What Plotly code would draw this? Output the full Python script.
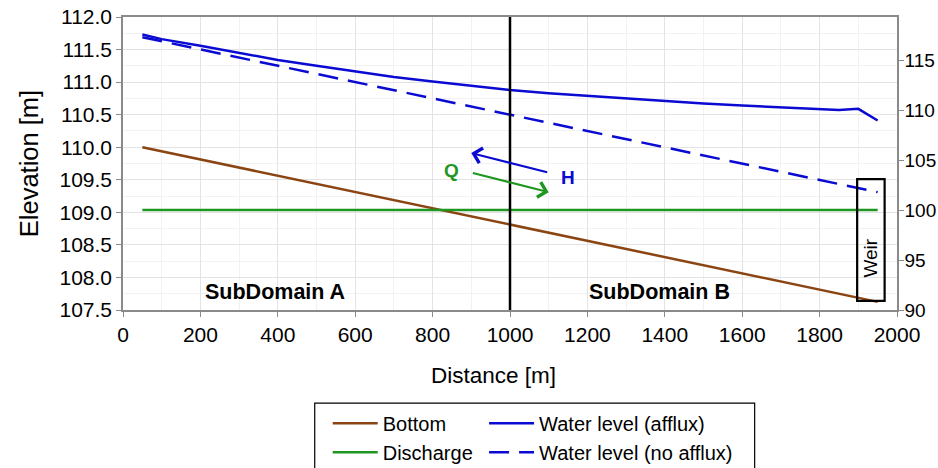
import plotly.graph_objects as go

# --- data ---
# channel bottom (left axis, m)
bottom_x = [50, 1950]
bottom_z = [110.0, 107.625]

# discharge (right axis)
discharge_x = [50, 1950]
discharge_q = [100, 100]

# water level with afflux from the weir (left axis, m)
afflux_x = [50, 100, 200, 300, 400, 500, 600, 700, 800, 900, 1000, 1100,
            1200, 1300, 1400, 1500, 1600, 1700, 1800, 1850, 1900, 1950]
afflux_h = [111.73, 111.66, 111.56, 111.45, 111.34, 111.25, 111.16, 111.08,
            111.01, 110.94, 110.88, 110.83, 110.79, 110.74, 110.70, 110.67,
            110.64, 110.61, 110.59, 110.57, 110.59, 110.41]

# water level without afflux (left axis, m)
noafflux_x = [50, 1950]
noafflux_h = [111.69, 109.31]

interface_x = 1000          # boundary between the two subdomains
weir_x = [1897, 1968]
weir_z = [107.64, 109.51]

FONT = "Liberation Sans, Arial, sans-serif"
BROWN = "#8b4513"
GREEN = "#1f961f"
BLUE = "#0a0ad2"
GRID = "#e3e3e3"
MINOR = "#f2f2f2"
AXIS = "#8a8a8a"

fig = go.Figure()

fig.add_trace(go.Scatter(x=bottom_x, y=bottom_z, name="Bottom", mode="lines",
                         line=dict(color=BROWN, width=2.5), legend="legend"))
fig.add_trace(go.Scatter(x=discharge_x, y=discharge_q, name="Discharge", mode="lines",
                         line=dict(color=GREEN, width=2.5), yaxis="y2", legend="legend"))
fig.add_trace(go.Scatter(x=afflux_x, y=afflux_h, name="Water level (afflux)", mode="lines",
                         line=dict(color=BLUE, width=2.5), legend="legend2"))
fig.add_trace(go.Scatter(x=noafflux_x, y=noafflux_h, name="Water level (no afflux)", mode="lines",
                         line=dict(color=BLUE, width=2.5, dash="20px,10px"), legend="legend2"))

# subdomain interface
fig.add_shape(type="line", xref="x", yref="paper", x0=interface_x, x1=interface_x, y0=0, y1=1,
              line=dict(color="black", width=2.5))
# weir box
fig.add_shape(type="rect", xref="x", yref="y", x0=weir_x[0], x1=weir_x[1], y0=weir_z[0], y1=weir_z[1],
              line=dict(color="black", width=2.2))
# legend frame
fig.add_shape(type="rect", xref="paper", yref="paper", x0=0.2477, x1=0.8161, y0=-0.3177, y1=-0.58,
              line=dict(color="black", width=1.2))

# arrows H (upstream) and Q (downstream)
fig.add_annotation(x=900, y=109.91, ax=1100, ay=109.61, xref="x", yref="y", axref="x", ayref="y",
                   text="", showarrow=True, arrowhead=4, arrowsize=1.5, arrowwidth=2, arrowcolor=BLUE)
fig.add_annotation(x=1100, y=109.31, ax=900, ay=109.61, xref="x", yref="y", axref="x", ayref="y",
                   text="", showarrow=True, arrowhead=4, arrowsize=1.5, arrowwidth=2, arrowcolor=GREEN)
fig.add_annotation(x=849, y=109.64, text="<b>Q</b>", showarrow=False,
                   font=dict(family=FONT, size=19, color=GREEN))
fig.add_annotation(x=1150, y=109.53, text="<b>H</b>", showarrow=False,
                   font=dict(family=FONT, size=19, color=BLUE))

fig.add_annotation(x=392, y=107.78, text="<b>SubDomain A</b>", showarrow=False,
                   font=dict(family=FONT, size=21.5, color="black"))
fig.add_annotation(x=1387, y=107.78, text="<b>SubDomain B</b>", showarrow=False,
                   font=dict(family=FONT, size=21.5, color="black"))
fig.add_annotation(x=1932, y=108.30, text="Weir", textangle=-90, showarrow=False,
                   font=dict(family=FONT, size=19, color="black"))

fig.add_annotation(x=0.479, y=-0.222, xref="paper", yref="paper", yanchor="middle",
                   text="Distance [m]", showarrow=False,
                   font=dict(family=FONT, size=22.5, color="black"))

fig.update_layout(
    width=938, height=468,
    margin=dict(l=123, r=41, t=17, b=158, autoexpand=False),
    plot_bgcolor="white", paper_bgcolor="white",
    font=dict(family=FONT, size=21, color="black"),
    xaxis=dict(range=[0, 2000], dtick=200, tick0=0, showgrid=True, gridcolor=GRID,
               minor=dict(dtick=100, showgrid=True, gridcolor=MINOR),
               showline=True, linecolor=AXIS, linewidth=1.5, mirror=True,
               ticks="outside", ticklen=5, tickcolor=AXIS, zeroline=False),
    yaxis=dict(range=[107.5, 112.0], dtick=0.5, tick0=107.5, tickformat=".1f",
               showgrid=True, gridcolor=GRID,
               minor=dict(dtick=0.25, showgrid=True, gridcolor=MINOR),
               showline=True, linecolor=AXIS, linewidth=1.5,
               ticks="outside", ticklen=5, tickcolor=AXIS, zeroline=False,
               title=dict(text="Elevation [m]", font=dict(size=25.5), standoff=14)),
    yaxis2=dict(range=[90, 119.33], dtick=5, tick0=90, overlaying="y", side="right",
                showgrid=False, showline=True, linecolor=AXIS, linewidth=1.5,
                ticks="outside", ticklen=5, tickcolor=AXIS, zeroline=False,
                tickfont=dict(size=19), ticklabelstandoff=-3),
    legend=dict(x=0.2645, y=-0.32, xanchor="left", yanchor="top", orientation="v",
                bgcolor="rgba(0,0,0,0)", font=dict(size=20), tracegroupgap=0, itemwidth=45),
    legend2=dict(x=0.4665, y=-0.32, xanchor="left", yanchor="top", orientation="v",
                 bgcolor="rgba(0,0,0,0)", font=dict(size=20), tracegroupgap=0, itemwidth=45),
)

# page has a default body margin; drop it so the figure fills the window
fig.write_html("out.html", config={"displayModeBar": False},
               post_script="document.body.style.margin='0';")
